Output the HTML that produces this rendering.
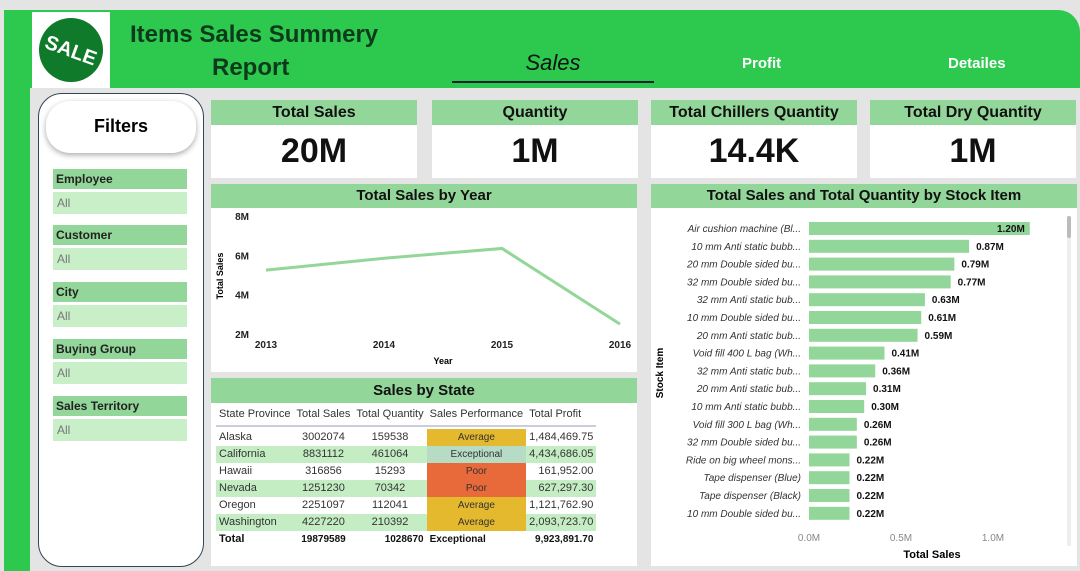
<!DOCTYPE html>
<html><head><meta charset="utf-8"><style>
*{box-sizing:border-box;margin:0;padding:0}
body{width:1080px;height:571px;background:#e4e4e4;font-family:"Liberation Sans",sans-serif;position:relative;overflow:hidden}
.abs{position:absolute}
.hdr{background:#2dc94f}
.card{background:#fff}
.ct{background:#93d699;color:#111;font-weight:bold;text-align:center}
.kpiv{font-size:34px;font-weight:bold;text-align:center;color:#111}
.fl{background:#93d699;font-size:12px;font-weight:bold;padding:3px 3px;color:#222}
.fv{background:#c8efc8;font-size:12px;color:#777;padding:4px 4px}
table{border-collapse:collapse;font-size:11px}
td{padding:0 3px;height:17px;line-height:17px}
</style></head><body>
<div class="abs hdr" style="left:4px;top:10px;width:26px;height:561px"></div>
<div class="abs hdr" style="left:30px;top:10px;width:1050px;height:78px;border-top-right-radius:22px"></div>
<div class="abs" style="left:32px;top:12px;width:78px;height:76px;background:#fff">
<svg width="78" height="76"><circle cx="39" cy="38" r="32" fill="#0f7a2a"/><text x="39" y="45" font-size="20" font-weight="bold" fill="#fff" text-anchor="middle" transform="rotate(20 39 38)" font-family="Liberation Sans">SALE</text></svg></div>
<div class="abs" style="left:130px;top:18px;font-size:24px;font-weight:bold;color:#0d3a1b;line-height:33px">Items Sales Summery<br><span style="padding-left:82px">Report</span></div>
<div class="abs" style="left:452px;top:50px;width:202px;text-align:center;font-size:22px;font-style:italic;color:#111">Sales</div>
<div class="abs" style="left:452px;top:81px;width:202px;height:2px;background:#123"></div>
<div class="abs" style="left:742px;top:55px;font-size:15px;color:#fff;font-weight:bold">Profit</div>
<div class="abs" style="left:948px;top:55px;font-size:15px;color:#fff;font-weight:bold">Detailes</div>

<div class="abs card" style="left:38px;top:93px;width:166px;height:474px;border:1px solid #345;border-radius:24px"></div>
<div class="abs card" style="left:46px;top:101px;width:150px;height:52px;border-radius:24px;box-shadow:0 2px 6px #aaa;text-align:center;line-height:50px;font-size:18px;font-weight:bold">Filters</div>
<div class="abs" style="left:53px;top:169px;width:134px">
<div class="fl">Employee</div><div class="fv" style="margin:3px 0 0">All</div>
<div class="fl" style="margin-top:11px">Customer</div><div class="fv" style="margin-top:3px">All</div>
<div class="fl" style="margin-top:12px">City</div><div class="fv" style="margin-top:3px">All</div>
<div class="fl" style="margin-top:12px">Buying Group</div><div class="fv" style="margin-top:3px">All</div>
<div class="fl" style="margin-top:12px">Sales Territory</div><div class="fv" style="margin-top:3px">All</div>
</div>

<div class="abs card" style="left:211px;top:100px;width:206px;height:78px"><div class="ct" style="height:25px;line-height:25px;font-size:16px">Total Sales</div><div class="kpiv" style="line-height:52px">20M</div></div>
<div class="abs card" style="left:432px;top:100px;width:206px;height:78px"><div class="ct" style="height:25px;line-height:25px;font-size:16px">Quantity</div><div class="kpiv" style="line-height:52px">1M</div></div>
<div class="abs card" style="left:651px;top:100px;width:206px;height:78px"><div class="ct" style="height:25px;line-height:25px;font-size:16px">Total Chillers Quantity</div><div class="kpiv" style="line-height:52px">14.4K</div></div>
<div class="abs card" style="left:870px;top:100px;width:206px;height:78px"><div class="ct" style="height:25px;line-height:25px;font-size:16px">Total Dry Quantity</div><div class="kpiv" style="line-height:52px">1M</div></div>

<div class="abs card" style="left:211px;top:184px;width:426px;height:188px"><div class="ct" style="height:24px;line-height:24px;font-size:15px">Total Sales by Year</div></div>
<svg class="abs" id="line" style="left:211px;top:208px" width="426" height="164"></svg>

<div class="abs card" style="left:211px;top:378px;width:426px;height:188px"><div class="ct" style="height:25px;line-height:25px;font-size:15px">Sales by State</div>
<table style="margin:0 0 0 5px;color:#333">
<tr style="border-bottom:2px solid #ccd"><td style="height:22px;line-height:22px">State Province</td><td>Total Sales</td><td>Total Quantity</td><td>Sales Performance</td><td>Total Profit</td></tr>
<tr><td style="height:3px;line-height:3px"></td></tr>
<tr><td>Alaska</td><td style="text-align:center">3002074</td><td style="text-align:center">159538</td><td style="background:#e5b92e;text-align:center;font-size:10px">Average</td><td style="text-align:right">1,484,469.75</td></tr>
<tr style="background:#c4edc4"><td>California</td><td style="text-align:center">8831112</td><td style="text-align:center">461064</td><td style="background:#b7dcc6;text-align:center;font-size:10px">Exceptional</td><td style="text-align:right">4,434,686.05</td></tr>
<tr><td>Hawaii</td><td style="text-align:center">316856</td><td style="text-align:center">15293</td><td style="background:#e8693a;text-align:center;font-size:10px">Poor</td><td style="text-align:right">161,952.00</td></tr>
<tr style="background:#c4edc4"><td>Nevada</td><td style="text-align:center">1251230</td><td style="text-align:center">70342</td><td style="background:#e8693a;text-align:center;font-size:10px">Poor</td><td style="text-align:right">627,297.30</td></tr>
<tr><td>Oregon</td><td style="text-align:center">2251097</td><td style="text-align:center">112041</td><td style="background:#e5b92e;text-align:center;font-size:10px">Average</td><td style="text-align:right">1,121,762.90</td></tr>
<tr style="background:#c4edc4"><td>Washington</td><td style="text-align:center">4227220</td><td style="text-align:center">210392</td><td style="background:#e5b92e;text-align:center;font-size:10px">Average</td><td style="text-align:right">2,093,723.70</td></tr>
<tr style="font-weight:bold;color:#111;font-size:10px"><td style="font-size:11px">Total</td><td style="text-align:center">19879589</td><td style="text-align:right">1028670</td><td>Exceptional</td><td style="text-align:right">9,923,891.70</td></tr>
</table></div>

<div class="abs card" style="left:651px;top:184px;width:426px;height:382px"><div class="ct" style="height:24px;line-height:24px;font-size:15px">Total Sales and Total Quantity by Stock Item</div></div>
<div class="abs" style="left:1067px;top:216px;width:4px;height:330px;background:#eee"><div style="width:4px;height:22px;background:#bbb;border-radius:2px"></div></div>
<svg class="abs" id="bar" style="left:651px;top:208px" width="414" height="358"></svg>

<script>
const years=["2013","2014","2015","2016"];
const yearSales=[5.25,5.85,6.35,2.5];
const yTicks=[2,4,6,8];
const items=["Air cushion machine (Bl...","10 mm Anti static bubb...","20 mm Double sided bu...","32 mm Double sided bu...","32 mm Anti static bub...","10 mm Double sided bu...","20 mm Anti static bub...","Void fill 400 L bag (Wh...","32 mm Anti static bub...","20 mm Anti static bub...","10 mm Anti static bubb...","Void fill 300 L bag (Wh...","32 mm Double sided bu...","Ride on big wheel mons...","Tape dispenser (Blue)","Tape dispenser (Black)","10 mm Double sided bu..."];
const itemSales=[1.20,0.87,0.79,0.77,0.63,0.61,0.59,0.41,0.36,0.31,0.30,0.26,0.26,0.22,0.22,0.22,0.22];
const xTicks=[0,0.5,1.0];
const NS="http://www.w3.org/2000/svg";
function mk(svg,t,a,txt){const e=document.createElementNS(NS,t);for(const k in a)e.setAttribute(k,a[k]);if(txt!==undefined)e.textContent=txt;svg.appendChild(e);return e;}
const L=document.getElementById('line');
const lx=i=>55+i*(409-55)/(years.length-1);
const ly=v=>126-(v-2)*(118/6);
yTicks.forEach(t=>{const e=mk(L,'text',{x:38,y:ly(t)+4,'font-size':10,'font-weight':'bold','text-anchor':'end',fill:'#222'},t+'M');

});
years.forEach((y,i)=>{const e=mk(L,'text',{x:lx(i),y:140,'font-size':10,'font-weight':'bold','text-anchor':'middle',fill:'#222'},y);

});
let ln=mk(L,'text',{x:232,y:156,'font-size':9,'font-weight':'bold','text-anchor':'middle'},'Year');


ln=mk(L,'text',{x:12,y:68,'font-size':9,'font-weight':'bold','text-anchor':'middle',transform:'rotate(-90 12 68)'},'Total Sales');


const pl=mk(L,'polyline',{points:yearSales.map((v,i)=>lx(i)+','+ly(v)).join(' '),fill:'none',stroke:'#93d699','stroke-width':3});


const B=document.getElementById('bar');
const bx=v=>158+v*184;
const by=i=>14+i*17.8;
items.forEach((n,i)=>{
const t=mk(B,'text',{x:150,y:by(i)+10,'font-size':10,'font-style':'italic','text-anchor':'end',fill:'#333'},n);


const r=mk(B,'rect',{x:bx(0),y:by(i),width:bx(itemSales[i])-bx(0),height:13,fill:'#93d699'});


const inside=i===0;
const v=mk(B,'text',{x:inside?bx(itemSales[i])-5:bx(itemSales[i])+7,y:by(i)+10,'font-size':10,'font-weight':'bold','text-anchor':inside?'end':'start',fill:'#111'},itemSales[i].toFixed(2)+'M');


});
xTicks.forEach(t=>{const e=mk(B,'text',{x:bx(t),y:333,'font-size':10,'text-anchor':'middle',fill:'#888'},t.toFixed(1)+'M');

});
let bt=mk(B,'text',{x:281,y:350,'font-size':11,'font-weight':'bold','text-anchor':'middle'},'Total Sales');


bt=mk(B,'text',{x:12,y:165,'font-size':10,'font-weight':'bold','text-anchor':'middle',transform:'rotate(-90 12 165)'},'Stock Item');


</script>
</body></html>
